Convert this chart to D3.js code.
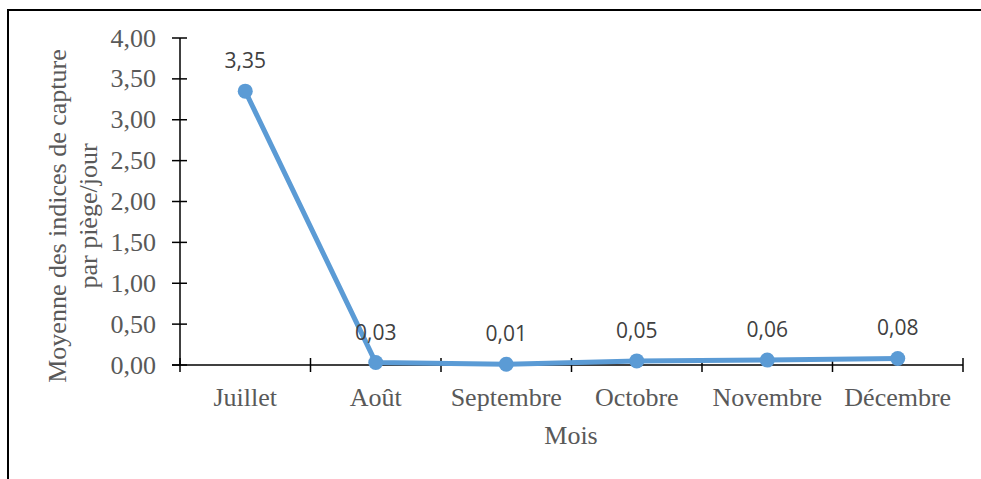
<!DOCTYPE html>
<html>
<head>
<meta charset="utf-8">
<script src="https://cdn.jsdelivr.net/npm/d3@7"></script>
<style>
  body { margin: 0; background: #fff; }
  svg { display: block; }
</style>
</head>
<body>
<svg id="chart"></svg>
<script>
    // data
    const months = ['Juillet', 'Août', 'Septembre', 'Octobre', 'Novembre', 'Décembre']
    const values = [3.35, 0.03, 0.01, 0.05, 0.06, 0.08]
    const yTicks = [0, 0.5, 1, 1.5, 2, 2.5, 3, 3.5, 4]

    const w = 981
    const h = 479
    const blue = '#5b9bd5'
    const serif = 'Liberation Serif, Times New Roman, serif'
    const fmt = v => d3.format('.2f')(v).replace('.', ',')

    const svg = d3.select('#chart')
        .attr('width', w)
        .attr('height', h)

    // frame: only top and left edges are visible
    svg.append('line')
        .attr('x1', 8).attr('x2', w).attr('y1', 10).attr('y2', 10)
        .attr('stroke', '#000').attr('stroke-width', 2)
    svg.append('line')
        .attr('x1', 8).attr('x2', 8).attr('y1', 9).attr('y2', h)
        .attr('stroke', '#000').attr('stroke-width', 2)

    const x = d3.scaleBand(months, [180, 963])
    const y = d3.scaleLinear([0, 4], [365, 38])

    // y axis
    const yAxis = svg.append('g')
    yAxis.append('line')
        .attr('x1', 180).attr('x2', 180)
        .attr('y1', y(4)).attr('y2', y(0))
        .attr('stroke', '#000').attr('stroke-width', 1.5)
    yAxis.selectAll('line.tick')
        .data(yTicks)
        .enter().append('line')
        .attr('class', 'tick')
        .attr('x1', 172).attr('x2', 187)
        .attr('y1', d => y(d)).attr('y2', d => y(d))
        .attr('stroke', '#000').attr('stroke-width', 1.5)
    yAxis.selectAll('text')
        .data(yTicks)
        .enter().append('text')
        .attr('x', 156)
        .attr('y', d => y(d))
        .attr('dy', '0.33em')
        .attr('text-anchor', 'end')
        .attr('font-family', serif)
        .attr('font-size', 26)
        .attr('fill', '#595959')
        .text(fmt)

    // x axis
    const xAxis = svg.append('g')
    xAxis.append('line')
        .attr('x1', 172).attr('x2', 963)
        .attr('y1', y(0)).attr('y2', y(0))
        .attr('stroke', '#000').attr('stroke-width', 1.5)
    const bounds = months.map(m => x(m)).concat([x.range()[1]])
    xAxis.selectAll('line.tick')
        .data(bounds)
        .enter().append('line')
        .attr('class', 'tick')
        .attr('x1', d => d).attr('x2', d => d)
        .attr('y1', y(0) - 7).attr('y2', y(0) + 7)
        .attr('stroke', '#000').attr('stroke-width', 1.5)
    xAxis.selectAll('text')
        .data(months)
        .enter().append('text')
        .attr('x', d => x(d) + x.bandwidth() / 2)
        .attr('y', 406)
        .attr('text-anchor', 'middle')
        .attr('font-family', serif)
        .attr('font-size', 26)
        .attr('fill', '#595959')
        .text(d => d)

    // axis titles
    svg.append('text')
        .attr('x', 571).attr('y', 444)
        .attr('text-anchor', 'middle')
        .attr('font-family', serif)
        .attr('font-size', 26)
        .attr('fill', '#595959')
        .text('Mois')

    const yTitle = svg.append('text')
        .attr('transform', 'translate(66, 216) rotate(-90)')
        .attr('text-anchor', 'middle')
        .attr('font-family', serif)
        .attr('font-size', 26)
        .attr('fill', '#595959')
    yTitle.append('tspan').attr('x', 0).attr('y', 0).text('Moyenne des indices de capture')
    yTitle.append('tspan').attr('x', 0).attr('y', 31).text('par piège/jour')

    // series
    const cx = d => x(d) + x.bandwidth() / 2
    const line = d3.line()
        .x((d, i) => cx(months[i]))
        .y(d => y(d))

    svg.append('path')
        .datum(values)
        .attr('d', line)
        .attr('fill', 'none')
        .attr('stroke', blue)
        .attr('stroke-width', 5)
        .attr('stroke-linejoin', 'round')

    svg.selectAll('circle.pt')
        .data(values)
        .enter().append('circle')
        .attr('class', 'pt')
        .attr('cx', (d, i) => cx(months[i]))
        .attr('cy', d => y(d))
        .attr('r', 7.5)
        .attr('fill', blue)

    svg.selectAll('text.lbl')
        .data(values)
        .enter().append('text')
        .attr('class', 'lbl')
        .attr('x', (d, i) => cx(months[i]))
        .attr('y', d => y(d) - 23)
        .attr('text-anchor', 'middle')
        .attr('font-family', 'Open Sans, sans-serif')
        .attr('font-size', 21)
        .attr('fill', '#404040')
        .text(fmt)
</script>
</body>
</html>
